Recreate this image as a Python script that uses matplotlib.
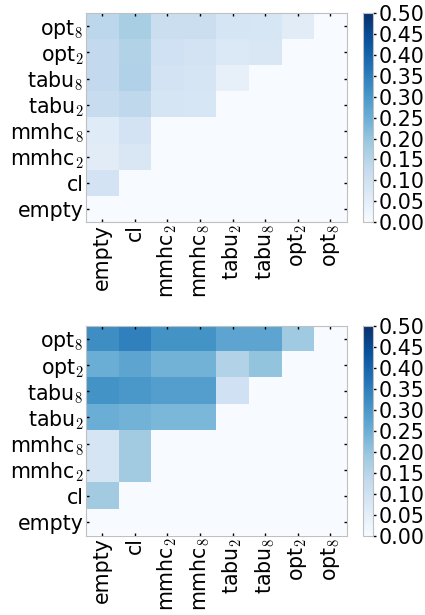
import numpy as np
import matplotlib
matplotlib.use("Agg")
import matplotlib.pyplot as plt

plt.rcParams["mathtext.fontset"] = "cm"
plt.rcParams["font.family"] = "DejaVu Sans"

# --- data: labels in column order (left to right); row i holds values for columns 0..i-1
labels = ["empty", "cl", "mmhc$_2$", "mmhc$_8$", "tabu$_2$", "tabu$_8$", "opt$_2$", "opt$_8$"]

top_rows = [
    [],
    [0.09],
    [0.055, 0.075],
    [0.06, 0.09],
    [0.12, 0.135, 0.085, 0.08],
    [0.13, 0.16, 0.09, 0.085, 0.04],
    [0.13, 0.155, 0.10, 0.09, 0.07, 0.075],
    [0.14, 0.17, 0.11, 0.11, 0.085, 0.08, 0.055],
]

bottom_rows = [
    [],
    [0.18],
    [0.085, 0.18],
    [0.085, 0.18],
    [0.25, 0.24, 0.23, 0.23],
    [0.31, 0.30, 0.285, 0.285, 0.10],
    [0.25, 0.27, 0.24, 0.24, 0.155, 0.20],
    [0.32, 0.345, 0.31, 0.31, 0.27, 0.27, 0.185],
]


def to_matrix(rows):
    n = len(labels)
    m = np.zeros((n, n))
    for i, r in enumerate(rows):
        m[i, :len(r)] = r
    return m[::-1]  # top row of the picture is the last label


W, H = 425, 615
fs = 14.8
fig = plt.figure(figsize=(W / 100, H / 100), dpi=100)

panels = [(top_rows, 13.3, 222.0), (bottom_rows, 325.7, 535.5)]
for rows, y0, y1 in panels:
    ax = fig.add_axes([85.7 / W, 1 - y1 / H, 261 / W, (y1 - y0) / H])
    cax = fig.add_axes([363.3 / W, 1 - y1 / H, 10 / W, (y1 - y0) / H])
    im = ax.imshow(to_matrix(rows), cmap="Blues", vmin=0, vmax=0.5,
                   aspect="auto", interpolation="nearest")
    ax.set_xticks(range(len(labels)))
    ax.set_xticklabels(labels, rotation=90, fontsize=fs)
    ax.set_yticks(range(len(labels)))
    ax.set_yticklabels(labels[::-1], fontsize=fs)
    ax.tick_params(direction="in", length=2.5, width=1, top=True, right=True,
                   pad=1.5, color="black")
    for s in ax.spines.values():
        s.set_edgecolor("#c0c0c0")

    cb = fig.colorbar(im, cax=cax)
    cb.set_ticks(np.arange(0, 0.51, 0.05))
    cb.ax.tick_params(labelsize=fs, length=2.5, width=1, pad=1)
    cb.outline.set_edgecolor("#c0c0c0")

fig.savefig("out.png", dpi=100)
